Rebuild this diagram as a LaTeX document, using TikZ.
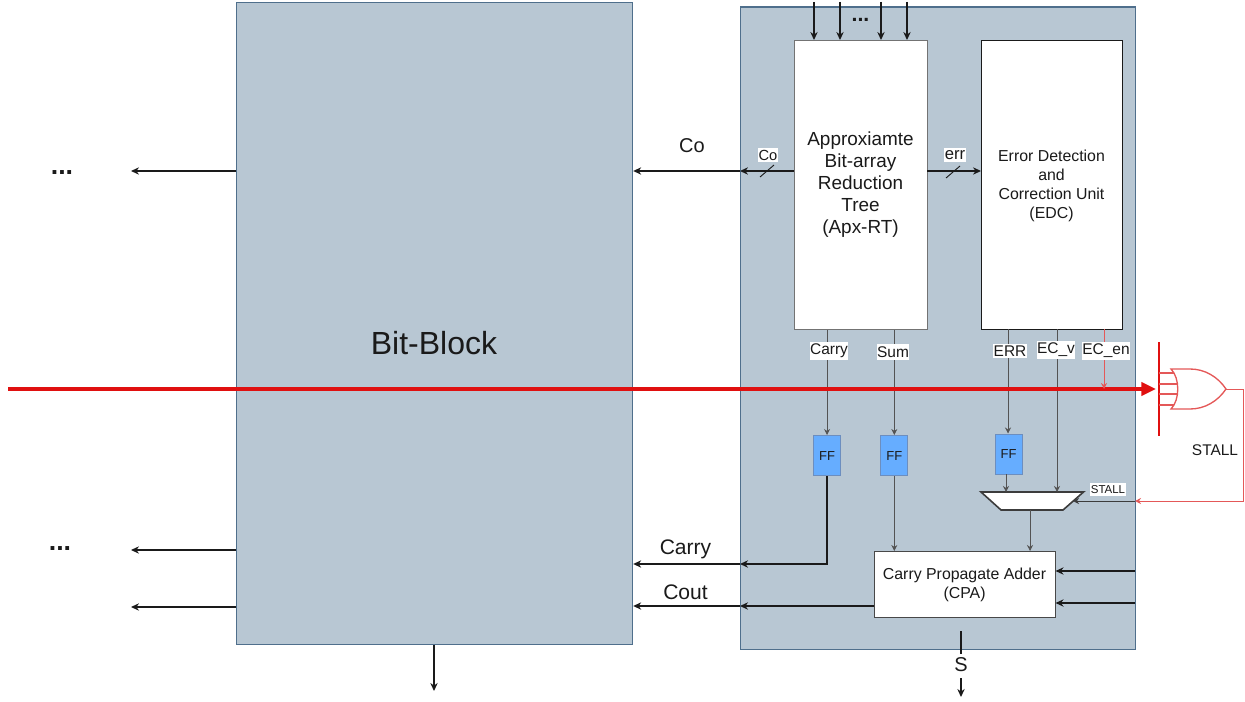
\documentclass[tikz,border=0pt]{standalone}
\usepackage{fontspec}
\setmainfont{Liberation Sans}
\usetikzlibrary{arrows.meta,positioning,calc}
\definecolor{blockfill}{HTML}{B8C7D3}
\definecolor{blockline}{HTML}{4F6F8C}
\definecolor{ffblue}{HTML}{66ADFF}
\definecolor{ffline}{HTML}{6C8EBF}
\definecolor{redline}{HTML}{E01010}
\definecolor{softred}{HTML}{E45858}
\definecolor{ink}{HTML}{1A1A1A}
\newcommand{\fs}[1]{\fontsize{#1}{#1}\selectfont}
\tikzset{
  x=0.75pt,y=-0.75pt,
  block/.style={draw=blockline,fill=blockfill,line width=0.9pt,minimum width=#1,inner sep=0pt},
  whitebox/.style={draw=#1,fill=white,inner sep=0pt,align=center,text=ink},
  ffbox/.style={draw=ffline,fill=ffblue,line width=0.8pt,minimum width=20.25pt,minimum height=30pt,inner sep=0pt,font=\fs{9.75},text=ink},
  tag/.style={fill=white,inner xsep=0.4pt,inner ysep=1.6pt,text=ink,font=\fs{11.6}},
  plain/.style={inner sep=0pt,text=ink},
  thick arrow/.style={draw=ink,line width=0.9pt,-{Stealth[length=6pt,width=5.5pt]}},
  thin arrow/.style={draw=ink!75,line width=0.6pt,-{Stealth[length=4.5pt,width=4.5pt]}},
  red arrow/.style={draw=softred,line width=0.7pt,-{Stealth[length=4.5pt,width=4.5pt]}},
  red gate/.style={draw=softred,line width=1pt},
}
\begin{document}
\begin{tikzpicture}
\useasboundingbox (0,0) rectangle (1245,702);
% main blocks
\node[block=297pt,minimum height=481.5pt,anchor=north west] (bitblock) at (236,2) {};
\node[plain,font=\fs{24}] (bitlabel) at (434,343) {Bit-Block};
\node[block=296.25pt,minimum height=481.5pt,anchor=north west] (unit) at (739.5,6.5) {};
% inner boxes
\node[whitebox=black!55,line width=0.9pt,minimum width=99.75pt,minimum height=216.75pt,anchor=north west] (apx) at (794,40) {};
\node[plain,align=center,font={\fontsize{14.2}{16.6}\selectfont}] (apxlabel) at (860.5,184.5) {Approxiamte\\Bit-array\\Reduction\\Tree\\(Apx-RT)};
\node[whitebox=ink,line width=1.1pt,minimum width=105.75pt,minimum height=216.75pt,anchor=north west] (edc) at (981,40) {};
\node[plain,align=center,font={\fontsize{11.9}{14.25}\selectfont}] (edclabel) at (1051.5,186) {Error Detection\\and\\Correction Unit\\(EDC)};
\node[ffbox,anchor=north west] (ff1) at (813,435) {FF};
\node[ffbox,anchor=north west] (ff2) at (880.3,435) {FF};
\node[ffbox,anchor=north west] (ff3) at (994.5,433.5) {FF};
\node[whitebox=ink!80,line width=0.8pt,minimum width=135.75pt,minimum height=49.5pt,anchor=north west,font={\fontsize{11.9}{14.25}\selectfont}] (cpa) at (873.5,551) {Carry Propagate Adder\\(CPA)};
\draw[draw=ink!85,fill=white,line width=1.2pt] (981,492) -- (1083.5,492) -- (1063,510) -- (1001,510) -- cycle;
\coordinate (muxtop) at (1032,492);
\coordinate (muxbot) at (1030,510);
% top inputs
\foreach \n/\px in {a/814,b/840,c/881,d/907}{
  \coordinate (top\n) at (\px,2);
  \draw[thick arrow] (top\n) -- (top\n |- apx.north);
}
\node[plain,font=\fs{16}\bfseries] (topdots) at (860.5,20) {...};
% Co, err
\coordinate (coat) at (740,171);
\draw[thick arrow] (apx.west |- coat) -- (coat);
\draw[thick arrow] (coat) -- (bitblock.east |- coat);
\coordinate (errat) at (927,171);
\draw[thick arrow] (errat) -- (edc.west |- errat);
\node[tag,font=\fs{11}] (colab) at (768,155) {Co};
\node[tag,font=\fs{12.5}] (errlab) at (955,155) {err};
\coordinate (s1a) at (760,177); \coordinate (s1b) at (774,165);
\coordinate (s2a) at (946,178); \coordinate (s2b) at (960,166);
\draw[ink,line width=0.7pt] (s1a) -- (s1b);
\draw[ink,line width=0.7pt] (s2a) -- (s2b);
\node[plain,font=\fs{15}] (coout) at (692,146) {Co};
% left side arrows
\coordinate (l1) at (131,171); \coordinate (l2) at (131,550); \coordinate (l3) at (131,607);
\foreach \c in {l1,l2,l3} \draw[thick arrow] (bitblock.west |- \c) -- (\c);
\node[plain,font=\fs{20}\bfseries] (dots1) at (62,173) {...};
\node[plain,font=\fs{20}\bfseries] (dots2) at (60,549) {...};
\coordinate (bb) at (434,691);
\draw[thick arrow] (bb |- bitblock.south) -- (bb);
% verticals from Apx / EDC
\draw[thin arrow] (ff1.north |- apx.south) -- (ff1.north);
\draw[thin arrow] (ff2.north |- apx.south) -- (ff2.north);
\coordinate (errx) at (1008,329);
\draw[thin arrow] (errx) -- (errx |- ff3.north);
\coordinate (ecv) at (1057,329);
\draw[thin arrow] (ecv) -- (ecv |- muxtop);
\coordinate (ffm) at (1006,474);
\draw[thin arrow] (ffm) -- (ffm |- muxtop);
\draw[thin arrow] (muxbot) -- (muxbot |- cpa.north);
\draw[thin arrow] (ff2.south) -- (ff2.south |- cpa.north);
\coordinate (stallin) at (1135,501);
\coordinate (muxr) at (1073,501);
\draw[draw=ink!85,line width=0.6pt,-{Stealth[length=4.5pt,width=4.5pt]}] (stallin) -- (muxr);
% Carry, Cout
\coordinate (carrye) at (740,564);
\draw[draw=ink,line width=1.1pt,-{Stealth[length=6pt,width=5.5pt]}] (ff1.south) |- (carrye);
\draw[thick arrow] (carrye) -- (bitblock.east |- carrye);
\coordinate (coutc) at (740,606);
\draw[draw=ink,line width=1.1pt,-{Stealth[length=6pt,width=5.5pt]}] (cpa.west |- coutc) -- (coutc);
\draw[thick arrow] (coutc) -- (bitblock.east |- coutc);
\node[plain,font=\fs{15.8}] (carrylab) at (685.5,549) {Carry};
\node[plain,font=\fs{15.8}] (coutlab) at (685.5,592) {Cout};
% CPA right inputs
\coordinate (r1) at (1135,571); \coordinate (r2) at (1135,603);
\draw[thick arrow] (r1) -- (cpa.east |- r1);
\draw[thick arrow] (r2) -- (cpa.east |- r2);
% S
\coordinate (sa) at (961,631); \coordinate (sb) at (961,654);
\coordinate (sc) at (961,678); \coordinate (sd) at (961,697);
\draw[ink,line width=0.9pt] (sa) -- (sb);
\draw[thick arrow] (sc) -- (sd);
\node[plain,font=\fs{15}] (slab) at (961,665) {S};
% red bus
\coordinate (busstart) at (8,389);
\coordinate (busend) at (1156,389);
\draw[draw=redline,line width=2.4pt,-{Stealth[length=11pt,width=10pt,inset=0pt]}] (busstart) -- (busend);
\coordinate (enx) at (1104,329);
\draw[red arrow] (enx) -- (enx |- busend);
% tags
\node[tag] (t1) at (829,351) {Carry};
\node[tag] (t2) at (893,352) {Sum};
\node[tag] (t3) at (1010,351) {ERR};
\node[tag] (t4) at (1056,350) {EC\_v};
\node[tag] (t5) at (1106,351) {EC\_en};
\node[tag,font=\fs{8.6}] (t6) at (1108,489.5) {STALL};
\node[plain,font=\fs{11.6}] (stalllab) at (1215,450) {STALL};
% OR gate
\coordinate (barT) at (1159,342); \coordinate (barB) at (1159,436);
\draw[draw=redline,line width=2.2pt] (barT) -- (barB);
\draw[red gate] (1171,369) .. controls (1180,378) and (1180,400) .. (1171,409)
   -- (1190,409) .. controls (1205,409) and (1218,401) .. (1226,389)
   .. controls (1218,377) and (1205,369) .. (1190,369) -- cycle;
\foreach \yy/\xx in {373/1174,384/1178,394/1178,405/1174} \draw[red gate] (1159,\yy) -- (\xx,\yy);
\coordinate (gout) at (1226,389); \coordinate (gc1) at (1243,389); \coordinate (gc2) at (1243,501);
\draw[red arrow] (gout) -- (gc1) -- (gc2) -- (stallin);
\end{tikzpicture}
\end{document}
